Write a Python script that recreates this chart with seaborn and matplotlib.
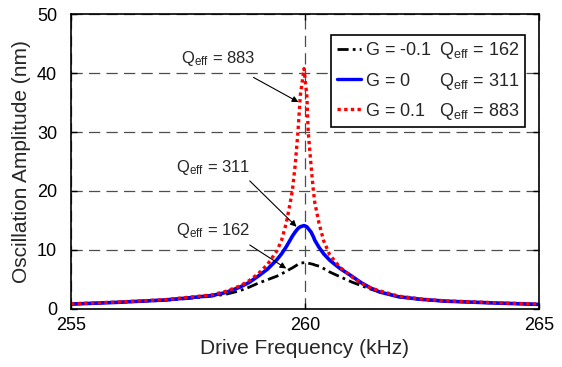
import matplotlib
matplotlib.use("Agg")
import matplotlib.pyplot as plt
import seaborn as sns
import pandas as pd
from matplotlib.lines import Line2D

# drive frequency (kHz)
freq = [255.0, 256.0, 257.0, 257.5, 258.0, 258.3, 258.6, 258.8, 259.0, 259.2,
        259.4, 259.5, 259.6, 259.68, 259.73, 259.79, 259.85, 259.9, 259.98, 260.04,
        260.07, 260.13, 260.18, 260.21, 260.3, 260.4, 260.53, 260.75, 261.0, 261.2,
        261.4, 261.6, 262.0, 262.5, 263.0, 264.0, 265.0]

# oscillation amplitude (nm)
amp_g_neg = [0.75, 1.05, 1.4, 1.7, 2.1, 2.4, 3.0, 3.6, 4.3, 4.9,
             5.5, 5.9, 6.3, 6.7, 6.9, 7.2, 7.5, 7.7, 7.8, 7.8,
             7.7, 7.6, 7.5, 7.4, 7.2, 6.8, 6.2, 5.4, 4.5, 3.9,
             3.3, 2.8, 2.0, 1.5, 1.25, 0.95, 0.7]
amp_g_zero = [0.75, 1.05, 1.45, 1.8, 2.2, 2.7, 3.6, 4.4, 5.5, 6.7,
              8.3, 9.3, 10.5, 11.6, 12.3, 13.0, 13.6, 13.9, 14.1, 13.9,
              13.6, 13.0, 12.2, 11.6, 10.4, 9.3, 8.2, 6.8, 5.5, 4.4,
              3.5, 2.8, 2.0, 1.55, 1.25, 0.95, 0.7]
amp_g_pos = [0.8, 1.1, 1.5, 1.9, 2.3, 2.9, 3.8, 4.7, 5.9, 7.5,
             9.8, 11.6, 14.5, 17.8, 20.0, 24.3, 30.0, 36.2, 40.8, 36.2,
             30.0, 24.3, 20.0, 18.0, 14.5, 11.5, 9.1, 7.0, 5.4, 4.3,
             3.5, 3.0, 2.1, 1.6, 1.3, 1.0, 0.75]

g_labels = ["G = -0.1", "G = 0", "G = 0.1"]
q_values = [162, 311, 883]

sns.set_style("ticks")
plt.rcParams["font.family"] = ["Liberation Sans", "DejaVu Sans"]
plt.rcParams["mathtext.fontset"] = "custom"
plt.rcParams["mathtext.rm"] = "Liberation Sans"
plt.rcParams["mathtext.it"] = "Liberation Sans:italic"

fig = plt.figure(figsize=(5.62, 3.67), dpi=100)
ax = fig.add_axes([0.1263, 0.1594, 0.8327, 0.8011])

df = pd.DataFrame({"freq": freq, "neg": amp_g_neg, "zero": amp_g_zero, "pos": amp_g_pos})

dashdot = (0, (4, 1.5, 1, 1.5))
dotted = (0, (1, 1))
sns.lineplot(data=df, x="freq", y="neg", color="black", lw=2, ax=ax, linestyle=dashdot)
sns.lineplot(data=df, x="freq", y="zero", color="#0000ff", lw=2.6, ax=ax)
sns.lineplot(data=df, x="freq", y="pos", color="#ff0000", lw=2.4, ax=ax, linestyle=dotted)

ax.set_xlim(255, 265)
ax.set_ylim(0, 50)
ax.set_xticks([255, 260, 265])
ax.set_yticks([0, 10, 20, 30, 40, 50])
ax.grid(True, linestyle=(0, (9, 5)), color="0.3", lw=0.9)
ax.set_axisbelow(True)
for s in ax.spines.values():
    s.set_color("black")
    s.set_linewidth(1.2)
ax.tick_params(direction="in", top=True, right=True, length=4, width=1,
               labelsize=13, colors="black")
ax.tick_params(axis="y", pad=10)
ax.tick_params(axis="x", pad=6)
ax.set_xlabel("Drive Frequency (kHz)", fontsize=15, labelpad=4)
ax.set_ylabel("Oscillation Amplitude (nm)", fontsize=15, labelpad=4)

# annotations
ann_fs = 12
ax.text(257.35, 42.5, r"$\mathrm{Q_{eff}}$ = 883", fontsize=ann_fs, ha="left", va="center")
ax.text(257.25, 23.9, r"$\mathrm{Q_{eff}}$ = 311", fontsize=ann_fs, ha="left", va="center")
ax.text(257.25, 13.2, r"$\mathrm{Q_{eff}}$ = 162", fontsize=ann_fs, ha="left", va="center")
arrow = dict(arrowstyle="-|>", color="black", lw=0.8, mutation_scale=9, shrinkA=0, shrinkB=0)
ax.annotate("", xy=(259.86, 35.1), xytext=(258.9, 39.3), arrowprops=arrow)
ax.annotate("", xy=(259.82, 13.9), xytext=(258.82, 21.7), arrowprops=arrow)
ax.annotate("", xy=(259.6, 6.8), xytext=(258.82, 10.8), arrowprops=arrow)

# legend: pad the G part with \hspace so the Q_eff column lines up
leg_fs = 13
renderer = fig.canvas.get_renderer()


def text_width(s):
    t = fig.text(0, 0, s, fontsize=leg_fs)
    w = t.get_window_extent(renderer).width
    t.remove()
    return w


m_width = text_width("m")
widths = [text_width(g) for g in g_labels]
labels = []
for g, q, w in zip(g_labels, q_values, widths):
    pad = (max(widths) - w) / m_width + 0.25
    labels.append(g + r"$\hspace{%.3f}$ $\mathrm{Q_{eff}}$ = %d" % (pad, q))

handles = [
    Line2D([], [], color="black", lw=2, linestyle=dashdot),
    Line2D([], [], color="#0000ff", lw=2.4),
    Line2D([], [], color="#ff0000", lw=2.4, linestyle=dotted),
]
leg = ax.legend(handles=handles, labels=labels, loc="upper right",
                bbox_to_anchor=(0.970, 0.930), fontsize=leg_fs, handlelength=1.35,
                handletextpad=0.2, labelspacing=0.5,
                borderpad=0.3, borderaxespad=0, frameon=True, fancybox=False)
leg.get_frame().set_edgecolor("black")
leg.get_frame().set_linewidth(1.2)
leg.get_frame().set_alpha(1)

fig.savefig("out.png", dpi=100)
